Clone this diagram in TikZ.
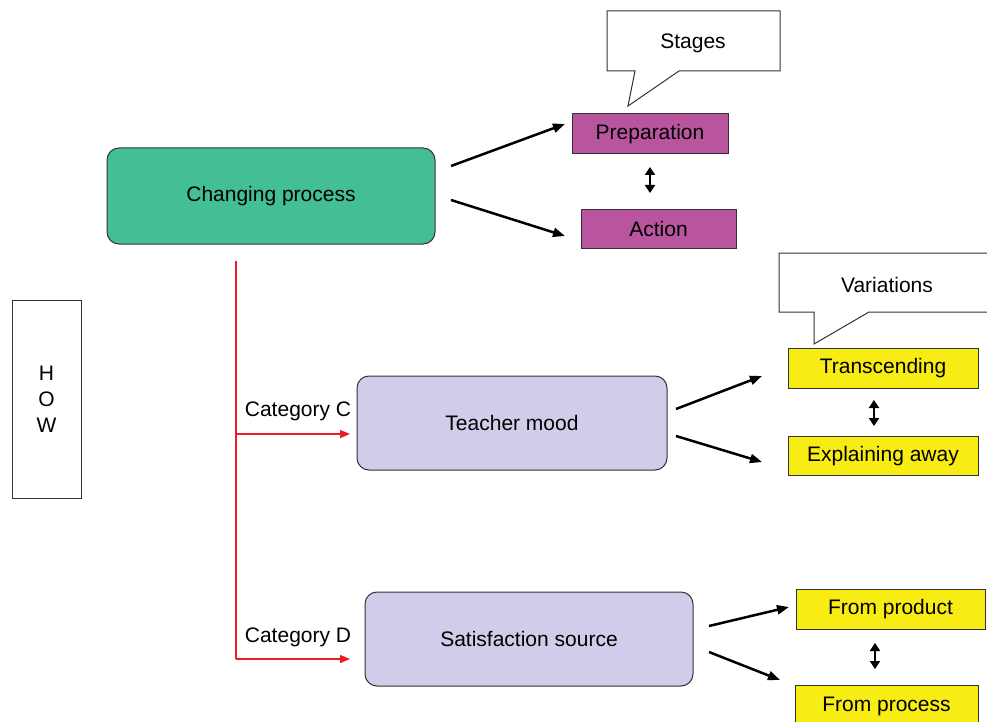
\documentclass[tikz,border=0pt]{standalone}
\usepackage{fontspec}
\setmainfont{Liberation Sans}
\usetikzlibrary{arrows.meta}
\definecolor{cteal}{HTML}{43BE96}
\definecolor{cmag}{HTML}{B9559E}
\definecolor{clav}{HTML}{CFCDE9}
\definecolor{cyel}{HTML}{F7EC14}
\definecolor{cred}{HTML}{EE1C24}
\begin{document}
\begin{tikzpicture}[x=1pt,y=-1pt,
  every node/.style={font=\fontsize{21}{26}\selectfont, inner sep=0pt},
  bigbox/.style={draw=black!80, line width=1pt, rounded corners=12pt},
  smallbox/.style={draw=black!80, line width=1pt},
  callout/.style={draw=black!80, line width=1pt, fill=white},
  arr/.style={line width=2.5pt, -{Triangle[length=12pt,width=9pt]}},
  dbl/.style={line width=2pt, {Triangle[length=8pt,width=10pt]}-{Triangle[length=8pt,width=10pt]}},
  redarr/.style={draw=cred, line width=1.4pt, -{Triangle[length=10pt,width=8pt]}}]
\useasboundingbox (0,0) rectangle (987,722);
\fill[white] (0,0) rectangle (987,722);

% callouts
\draw[callout] (607,11) -- (780,11) -- (780,71) -- (679,71) -- (628,106) -- (635,71) -- (607,71) -- cycle;
\node (stages) at (693,43) {Stages};
\draw[callout] (779,253) -- (995,253) -- (995,312) -- (869,312) -- (814,344) -- (814,312) -- (779,312) -- cycle;
\node (variations) at (887,285) {Variations};

% main boxes
\node[bigbox, fill=cteal, minimum width=328pt, minimum height=96pt] (change) at (271,196) {Changing process};
\node[bigbox, fill=clav, minimum width=310pt, minimum height=94pt] (teacher) at (512,423) {Teacher mood};
\node[bigbox, fill=clav, minimum width=328pt, minimum height=94pt] (satis) at (529,639) {Satisfaction source};

% small boxes
\node[smallbox, fill=cmag, minimum width=156pt, minimum height=40pt] (prep) at (650,134) {Preparation};
\node[smallbox, fill=cmag, minimum width=155pt, minimum height=39pt] (action) at (658.5,228.5) {Action};
\node[smallbox, fill=cyel, minimum width=190pt, minimum height=40pt] (trans) at (883,368) {Transcending};
\node[smallbox, fill=cyel, minimum width=190pt, minimum height=39pt] (expl) at (883,456) {Explaining away};
\node[smallbox, fill=cyel, minimum width=189pt, minimum height=40pt] (fprod) at (890.5,609) {From product};
\node[smallbox, fill=cyel, minimum width=183pt, minimum height=42pt] (fproc) at (886.5,706) {From process};

% HOW box
\node[smallbox, minimum width=69pt, minimum height=198pt, align=center] (how) at (46.5,399) {H\\O\\W};

% arrow endpoints
\coordinate (c1s) at (451,166); \coordinate (c1e) at (565,124);
\coordinate (c2s) at (451,200); \coordinate (c2e) at (565,236);
\coordinate (t1s) at (676,409); \coordinate (t1e) at (762,376);
\coordinate (t2s) at (676,436); \coordinate (t2e) at (762,462);
\coordinate (s1s) at (709,626); \coordinate (s1e) at (789,607);
\coordinate (s2s) at (709,652); \coordinate (s2e) at (780,680);
\draw[arr] (c1s) -- (c1e);
\draw[arr] (c2s) -- (c2e);
\draw[arr] (t1s) -- (t1e);
\draw[arr] (t2s) -- (t2e);
\draw[arr] (s1s) -- (s1e);
\draw[arr] (s2s) -- (s2e);

% double arrows
\coordinate (d1a) at (650,167); \coordinate (d1b) at (650,193);
\coordinate (d2a) at (874,400); \coordinate (d2b) at (874,426);
\coordinate (d3a) at (875,643); \coordinate (d3b) at (875,669);
\draw[dbl] (d1a) -- (d1b);
\draw[dbl] (d2a) -- (d2b);
\draw[dbl] (d3a) -- (d3b);

% red connectors
\coordinate (rtop) at (236,261);
\coordinate (rc) at (236,434);
\coordinate (rd) at (236,659);
\coordinate (rce) at (350,434);
\coordinate (rde) at (350,659);
\draw[cred, line width=1.4pt] (rtop) -- (rd);
\draw[redarr] (rc) -- (rce);
\draw[redarr] (rd) -- (rde);
\node (catc) at (298,411) {Category C};
\node (catd) at (298,637) {Category D};
\end{tikzpicture}
\end{document}
